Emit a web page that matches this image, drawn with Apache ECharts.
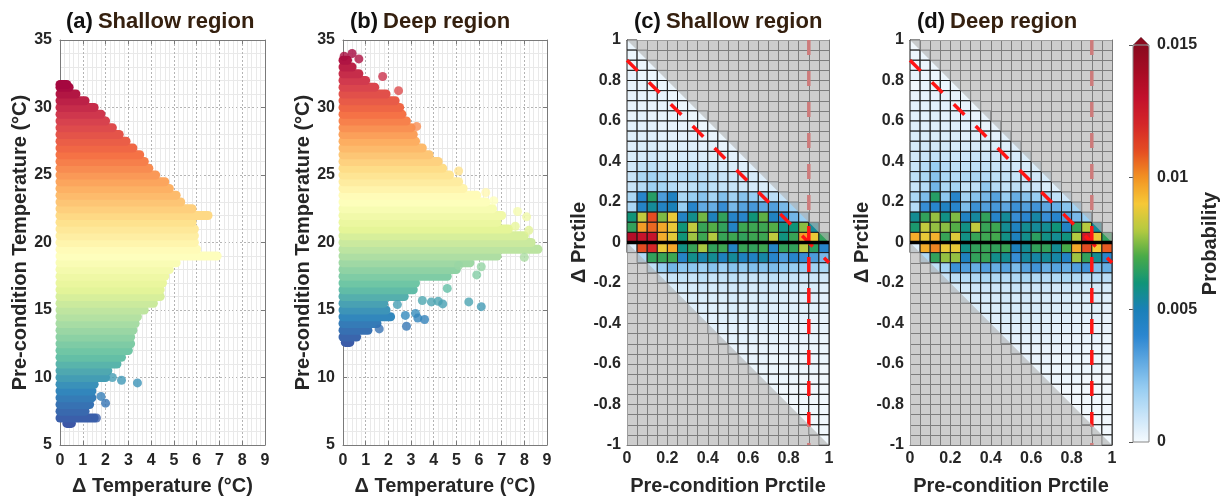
<!DOCTYPE html>
<html>
<head>
<meta charset="utf-8">
<script src="https://cdn.jsdelivr.net/npm/echarts@6/dist/echarts.min.js"></script>
<style>
  html, body { margin: 0; padding: 0; background: #fff; }
  #chart { width: 1226px; height: 498px; }
</style>
</head>
<body>
<div id="chart"></div>
<script>
// (a) shallow region: the point cloud read row by row (temperature level, left / right dot centre)
var shallowTemp = [6.6, 7, 7.5, 8, 8.5, 9, 9.5, 10, 10.5, 11, 11.5, 12, 12.5, 13, 13.5, 14, 14.5, 15, 15.5, 16, 16.5, 17, 17.5, 18, 18.5,
    19, 19.5, 20, 20.5, 21, 21.5, 22, 22.5, 23, 23.5, 24, 24.5, 25, 25.5, 26, 26.5, 27, 27.5, 28, 28.5, 29, 29.5, 30, 30.5, 31, 31.5, 31.7];
var shallowMinDelta = [0.3, 0, 0, 0, 0, 0, 0, 0, 0, 0, 0, 0, 0, 0, 0, 0, 0, 0, 0, 0, 0, 0, 0, 0, 0,
    0, 0, 0, 0, 0, 0, 0, 0, 0, 0, 0, 0, 0, 0, 0, 0, 0, 0, 0, 0, 0, 0, 0, 0, 0, 0, 0];
var shallowMaxDelta = [0.5, 1.5, 1.1, 1.3, 1.4, 1.4, 1.5, 2.0, 2.1, 2.5, 2.7, 3.0, 3.1, 3.1, 3.2, 3.3, 3.4, 3.7, 4.1, 4.4, 4.4, 4.5, 4.6, 4.8, 5.1,
    6.9, 6.0, 5.9, 5.9, 5.9, 5.8, 6.5, 5.8, 5.3, 5.1, 4.8, 4.6, 4.2, 3.9, 3.7, 3.5, 3.2, 2.9, 2.6, 2.3, 2.0, 1.8, 1.5, 1.1, 0.7, 0.4, 0.3];
var shallowOutliers = [[2.7, 9.8], [3.4, 9.6], [2.0, 8.1], [1.8, 8.6], [2.3, 10.0], [1.6, 7.0]];

// (b) deep region
var deepTemp = [12.6, 13, 13.5, 14, 14.5, 15, 15.5, 16, 16.5, 17, 17.5, 18, 18.5, 19, 19.5, 20, 20.5, 21, 21.5, 22, 22.5,
    23, 23.5, 24, 24.5, 25, 25.5, 26, 26.5, 27, 27.5, 28, 28.5, 29, 29.5, 30, 30.5, 31, 31.5, 32, 32.5, 33, 33.5];
var deepMinDelta = [0.1, 0, 0, 0, 0, 0, 0, 0, 0, 0, 0, 0, 0, 0, 0, 0, 0, 0, 0, 0, 0,
    0, 0, 0, 0, 0, 0, 0, 0, 0, 0, 0, 0, 0, 0, 0, 0, 0, 0, 0, 0, 0, 0];
var deepMaxDelta = [0.3, 0.6, 1.1, 1.5, 2.1, 1.9, 1.8, 2.7, 3.1, 3.2, 4.6, 5.0, 5.6, 6.8, 8.6, 8.3, 8.0, 7.3, 6.8, 7.0, 6.6,
    6.3, 5.9, 5.3, 5.1, 4.7, 4.4, 4.2, 3.8, 3.5, 3.2, 3.1, 3.0, 2.8, 2.6, 2.5, 2.3, 1.9, 1.4, 1.0, 0.7, 0.4, 0.2];
var deepOutliers = [[0.05, 33.8], [0.4, 34.0], [0.7, 33.6], [1.75, 32.3], [2.45, 31.25], [3.25, 28.6], [5.1, 25.3], [6.3, 23.7],
    [6.65, 23.1], [7.7, 22.3], [8.1, 21.9], [7.6, 21.2], [8.2, 20.9], [8.0, 18.9], [5.1, 18.3], [6.1, 18.2], [5.9, 17.6],
    [4.6, 16.6], [2.4, 15.4], [3.5, 15.7], [3.9, 15.6], [4.2, 15.65], [4.4, 15.45], [5.55, 15.6], [6.1, 15.25], [2.75, 14.6],
    [3.2, 14.75], [3.6, 14.3], [2.8, 13.8], [1.6, 13.6], [3.3, 14.4]];

// (c)/(d) probability per 0.05 x 0.05 bin, in units of 1e-3.
// one row per Δ bin, top (0.95..1) first; each row only lists the bins inside the feasible band
var shallowProb = [
    [0.2],
    [0.2, 0.2],
    [0.2, 0.2, 0.2],
    [0.3, 0.2, 0.2, 0.2],
    [0.3, 0.3, 0.2, 0.2, 0.2],
    [0.3, 0.3, 0.3, 0.3, 0.2, 0.2],
    [0.3, 0.3, 0.3, 0.3, 0.3, 0.2, 0.2],
    [0.3, 0.4, 0.3, 0.3, 0.3, 0.3, 0.2, 0.2],
    [0.4, 0.4, 0.4, 0.3, 0.3, 0.3, 0.3, 0.2, 0.2],
    [0.5, 0.5, 0.5, 0.4, 0.4, 0.4, 0.4, 0.3, 0.3, 0.2],
    [0.5, 0.6, 0.6, 0.5, 0.5, 0.5, 0.5, 0.4, 0.4, 0.3, 0.3],
    [0.6, 0.7, 0.8, 0.7, 0.6, 0.7, 0.7, 0.6, 0.5, 0.5, 0.4, 0.3],
    [0.8, 1.1, 1.2, 1.0, 0.9, 0.9, 1.0, 0.9, 0.8, 0.7, 0.6, 0.5, 0.4],
    [1.0, 1.6, 1.8, 1.5, 1.2, 1.4, 1.5, 1.3, 1.2, 1.0, 0.9, 0.8, 0.7, 0.5],
    [1.0, 1.4, 1.9, 1.7, 1.4, 1.0, 1.2, 1.5, 1.2, 1.1, 1.0, 0.8, 0.7, 0.6, 0.5],
    [1.6, 4.2, 6.4, 3.4, 4.6, 1.6, 2.0, 2.3, 1.7, 2.4, 1.8, 2.3, 2.0, 1.6, 1.3, 1.0],
    [1.6, 4.4, 5.5, 4.5, 5.0, 2.0, 4.2, 3.0, 2.9, 3.8, 2.6, 3.2, 3.5, 3.1, 3.3, 2.6, 1.8],
    [6.0, 8.2, 11.0, 7.5, 8.8, 4.5, 5.7, 7.4, 4.8, 6.6, 4.3, 4.2, 6.0, 7.2, 4.6, 4.1, 2.7, 2.0],
    [6.6, 9.8, 10.6, 9.6, 8.8, 6.0, 8.2, 6.7, 7.1, 6.6, 4.5, 6.8, 6.8, 6.8, 7.1, 5.8, 6.0, 7.6, 5.5],
    [13.5, 12.8, 12.8, 9.5, 8.7, 6.0, 7.8, 6.8, 8.0, 6.7, 6.8, 6.6, 6.8, 6.8, 8.2, 5.9, 6.7, 9.8, 8.8, 6.6],
    [0.5, 11.0, 12.0, 8.8, 9.6, 5.8, 6.7, 7.9, 6.6, 6.8, 4.5, 6.7, 6.6, 6.8, 4.4, 6.6, 6.6, 8.1, 6.5, 4.2],
    [1.5, 6.6, 6.7, 6.8, 4.4, 5.7, 5.2, 5.6, 4.8, 5.5, 4.7, 4.6, 5.3, 4.2, 3.4, 4.2, 3.8, 3.4, 2.6],
    [1.2, 2.0, 2.7, 2.2, 2.2, 1.9, 2.3, 1.9, 2.3, 2.1, 2.4, 2.3, 2.5, 2.2, 2.0, 2.0, 1.8, 1.6],
    [0.8, 1.0, 1.1, 1.0, 1.2, 1.0, 1.1, 1.2, 1.1, 1.0, 1.1, 1.2, 1.1, 1.0, 0.9, 0.9, 0.8],
    [0.6, 0.7, 0.7, 0.8, 0.7, 0.8, 0.8, 0.8, 0.7, 0.8, 0.8, 0.7, 0.7, 0.6, 0.6, 0.5],
    [0.5, 0.6, 0.6, 0.6, 0.6, 0.7, 0.6, 0.6, 0.7, 0.6, 0.6, 0.5, 0.5, 0.5, 0.4],
    [0.5, 0.5, 0.5, 0.5, 0.6, 0.5, 0.5, 0.6, 0.5, 0.5, 0.5, 0.4, 0.4, 0.4],
    [0.4, 0.4, 0.5, 0.5, 0.5, 0.5, 0.5, 0.5, 0.4, 0.4, 0.4, 0.3, 0.3],
    [0.4, 0.4, 0.4, 0.4, 0.4, 0.4, 0.4, 0.4, 0.3, 0.3, 0.3, 0.3],
    [0.3, 0.4, 0.4, 0.4, 0.3, 0.4, 0.3, 0.3, 0.3, 0.3, 0.2],
    [0.3, 0.3, 0.3, 0.3, 0.3, 0.3, 0.3, 0.2, 0.2, 0.2],
    [0.3, 0.3, 0.3, 0.2, 0.2, 0.2, 0.2, 0.2, 0.2],
    [0.2, 0.2, 0.2, 0.2, 0.2, 0.2, 0.2, 0.1],
    [0.2, 0.2, 0.2, 0.2, 0.1, 0.1, 0.1],
    [0.2, 0.1, 0.1, 0.1, 0.1, 0.1],
    [0.1, 0.1, 0.1, 0.1, 0.1],
    [0.1, 0.1, 0.1, 0.1],
    [0.1, 0.1, 0.1],
    [0.1, 0.1],
    [0.1]
];
var deepProb = [
    [0.1],
    [0.2, 0.2],
    [0.2, 0.2, 0.2],
    [0.3, 0.2, 0.2, 0.2],
    [0.1, 0.3, 0.3, 0.2, 0.2],
    [0.3, 0.3, 0.3, 0.3, 0.3, 0.2],
    [0.4, 0.4, 0.4, 0.4, 0.3, 0.3, 0.2],
    [0.4, 0.4, 0.5, 0.4, 0.4, 0.4, 0.3, 0.3],
    [0.5, 0.5, 0.5, 0.5, 0.5, 0.4, 0.4, 0.3, 0.3],
    [0.6, 0.6, 0.6, 0.6, 0.6, 0.5, 0.5, 0.5, 0.4, 0.4],
    [0.7, 0.8, 0.8, 0.8, 0.7, 0.7, 0.7, 0.6, 0.6, 0.5, 0.5],
    [0.8, 1.0, 1.1, 1.0, 0.9, 0.9, 1.0, 0.9, 0.8, 0.7, 0.7, 0.6],
    [1.0, 1.4, 2.0, 1.4, 1.2, 1.1, 1.2, 1.1, 1.0, 0.9, 0.8, 0.7, 0.6],
    [1.2, 1.6, 2.3, 1.6, 1.4, 1.5, 1.6, 1.4, 1.2, 1.1, 1.0, 0.9, 0.8, 0.7],
    [1.0, 1.4, 2.7, 1.6, 1.7, 1.1, 1.2, 2.1, 1.4, 1.1, 1.2, 1.0, 0.9, 0.6, 0.5],
    [1.6, 2.5, 6.4, 2.2, 4.2, 1.8, 2.3, 2.6, 3.2, 2.0, 2.9, 2.3, 2.0, 1.7, 1.2, 0.9],
    [1.4, 3.8, 4.2, 4.6, 4.2, 2.5, 3.7, 3.3, 3.5, 3.1, 3.7, 3.3, 3.6, 3.1, 2.9, 2.3, 1.8],
    [5.6, 6.6, 7.7, 5.8, 7.5, 4.6, 5.4, 6.6, 4.3, 5.5, 3.8, 4.1, 5.3, 3.8, 4.2, 3.3, 2.6, 2.0],
    [6.2, 8.2, 7.7, 7.6, 7.1, 5.8, 8.2, 6.7, 6.8, 5.6, 4.7, 5.6, 5.5, 5.6, 6.0, 4.5, 6.6, 8.0, 5.5],
    [9.5, 8.8, 9.4, 6.7, 8.6, 5.8, 6.7, 6.8, 6.9, 5.8, 4.8, 5.7, 6.5, 5.8, 5.6, 5.9, 8.0, 12.5, 8.8, 6.6],
    [0.5, 9.5, 10.2, 8.8, 8.8, 5.8, 6.6, 6.7, 6.6, 6.7, 4.8, 5.6, 6.6, 6.6, 5.6, 7.0, 9.6, 11.0, 9.0, 10.8],
    [1.5, 6.6, 7.7, 7.7, 4.7, 6.6, 6.7, 5.7, 5.6, 3.8, 5.4, 5.3, 5.5, 5.3, 4.5, 7.8, 6.6, 5.6, 4.2],
    [1.2, 1.8, 3.7, 3.3, 2.9, 3.3, 2.9, 3.2, 2.5, 3.2, 3.6, 2.9, 3.2, 2.9, 3.3, 3.6, 2.5, 2.9],
    [1.0, 1.3, 1.4, 1.5, 1.6, 1.5, 1.4, 1.5, 1.6, 1.5, 1.4, 1.5, 1.6, 1.5, 1.4, 1.4, 1.3],
    [0.7, 0.8, 0.9, 0.9, 0.9, 0.9, 1.0, 0.9, 0.9, 0.9, 0.8, 0.9, 0.8, 0.8, 0.7, 0.7],
    [0.6, 0.7, 0.7, 0.7, 0.8, 0.7, 0.8, 0.7, 0.7, 0.7, 0.7, 0.6, 0.6, 0.6, 0.5],
    [0.6, 0.6, 0.6, 0.7, 0.7, 0.7, 0.7, 0.6, 0.6, 0.6, 0.5, 0.5, 0.5, 0.4],
    [0.5, 0.5, 0.6, 0.6, 0.6, 0.6, 0.5, 0.5, 0.5, 0.4, 0.4, 0.4, 0.3],
    [0.4, 0.5, 0.5, 0.5, 0.5, 0.5, 0.4, 0.4, 0.4, 0.3, 0.3, 0.3],
    [0.4, 0.4, 0.4, 0.4, 0.4, 0.4, 0.3, 0.3, 0.3, 0.3, 0.2],
    [0.3, 0.3, 0.3, 0.3, 0.3, 0.3, 0.3, 0.2, 0.2, 0.2],
    [0.3, 0.3, 0.3, 0.2, 0.2, 0.2, 0.2, 0.2, 0.2],
    [0.2, 0.2, 0.2, 0.2, 0.2, 0.2, 0.2, 0.1],
    [0.2, 0.2, 0.2, 0.2, 0.1, 0.1, 0.1],
    [0.1, 0.1, 0.1, 0.1, 0.1, 0.1],
    [0.1, 0.1, 0.1, 0.1, 0.1],
    [0.1, 0.1, 0.1, 0.1],
    [0.1, 0.1, 0.1],
    [0.1, 0.1],
    [0.1]
];

var threshold = 0.9;   // 90th percentile marker
var binSize = 0.05;
var probTicks = [0, 0.005, 0.01, 0.015];

var fontFamily = 'Liberation Sans, Arial, sans-serif';
var axisGray = '#7a7a7a';
var labelStyle = { fontFamily: fontFamily, fontWeight: 'bold', fontSize: 16, color: '#262626' };
var nameStyle = { fontFamily: fontFamily, fontWeight: 'bold', fontSize: 20, color: '#262626' };
var dotR = 4.5;
var maskColor = 'rgba(178,178,178,0.65)';
var heatColors = ['#f5fafe', '#c8e4f8', '#98cef2', '#62aae2', '#2c86d0', '#1a80b8', '#109478', '#48aa48',
    '#b4ca40', '#f6c836', '#f29222', '#e44c22', '#d42628', '#c2102c', '#a60c24', '#8a0a1e'];
var spectral = ['#3d57a6', '#3288bd', '#66c2a5', '#abdda4', '#e6f598', '#ffffbf', '#fee08b', '#fdae61', '#f46d43', '#d53e4f', '#a5073f'];

var panels = [
    { left: 60, width: 205 },
    { left: 343, width: 204 },
    { left: 627, width: 202 },
    { left: 910, width: 202 }
];

function buildBands(temps, mins, maxs) {
    return temps.map(function (t, i) { return [maxs[i], t, mins[i]]; });
}

function buildCells(rows) {
    var cells = [];
    rows.forEach(function (row, i) {
        var k = 19 - i;
        var first = k >= -1 ? 0 : -1 - k;
        row.forEach(function (v, j) {
            cells.push([(first + j) * binSize, k * binSize, v / 1000]);
        });
    });
    return cells;
}

function renderBand(params, api) {
    var a = api.coord([api.value(2), api.value(1)]);
    var b = api.coord([api.value(0), api.value(1)]);
    return {
        type: 'rect',
        shape: { x: a[0] - dotR, y: a[1] - dotR, width: b[0] - a[0] + 2 * dotR, height: 2 * dotR, r: dotR },
        style: { fill: api.visual('color') }
    };
}

function renderCell(params, api) {
    var x0 = api.value(0), y0 = api.value(1);
    var p0 = api.coord([x0, y0 + binSize]);
    var p1 = api.coord([x0 + binSize, y0]);
    return {
        type: 'rect',
        shape: { x: p0[0], y: p0[1], width: p1[0] - p0[0], height: p1[1] - p0[1] },
        style: { fill: api.visual('color'), stroke: '#1a1a1a', lineWidth: 1 }
    };
}

function renderMask(params, api) {
    function pts(list) { return list.map(function (p) { return api.coord(p); }); }
    return {
        type: 'group',
        children: [
            { type: 'polygon', shape: { points: pts([[0, 1], [1, 1], [1, 0]]) }, style: { fill: maskColor } },
            { type: 'polygon', shape: { points: pts([[0, 0], [0, -1], [1, -1]]) }, style: { fill: maskColor } }
        ]
    };
}

function mainAxis(gridIndex, min, max, interval, name, nameGap, minorSplit, heat) {
    return {
        type: 'value', gridIndex: gridIndex, min: min, max: max, interval: interval,
        name: name, nameLocation: 'middle', nameGap: nameGap, nameTextStyle: nameStyle,
        axisLine: { onZero: false, lineStyle: { color: axisGray } },
        axisTick: { show: !heat, inside: true, length: 4, lineStyle: { color: axisGray } },
        axisLabel: Object.assign({ margin: heat ? 6 : 8 }, labelStyle),
        splitLine: { show: true, lineStyle: heat ? { color: '#1a1a1a' } : { color: '#b4b4b4', type: [2, 2] } },
        minorTick: { show: false, splitNumber: minorSplit },
        minorSplitLine: { show: true, lineStyle: { color: heat ? '#1a1a1a' : '#e9e9e9' } }
    };
}

function mirrorAxis(gridIndex, position, min, max, interval, ticks) {
    return {
        type: 'value', gridIndex: gridIndex, position: position, min: min, max: max, interval: interval,
        axisLine: { show: true, onZero: false, lineStyle: { color: axisGray } },
        axisTick: { show: ticks, inside: true, length: 4, lineStyle: { color: axisGray } },
        axisLabel: { show: false },
        splitLine: { show: false }
    };
}

var grids = panels.map(function (p) {
    return { left: p.left, width: p.width, top: 40, height: 405, outerBoundsMode: 'none' };
});
grids.push({ left: 1133, width: 16, top: 45, height: 397, outerBoundsMode: 'none' });

var xAxes = [
    mainAxis(0, 0, 9, 1, 'Δ Temperature (°C)', 31, 5, false),
    mainAxis(1, 0, 9, 1, 'Δ Temperature (°C)', 31, 5, false),
    mainAxis(2, 0, 1, 0.2, 'Pre-condition Prctile', 31, 4, true),
    mainAxis(3, 0, 1, 0.2, 'Pre-condition Prctile', 31, 4, true),
    mirrorAxis(0, 'top', 0, 9, 1, true),
    mirrorAxis(1, 'top', 0, 9, 1, true),
    mirrorAxis(2, 'top', 0, 1, 0.2, false),
    mirrorAxis(3, 'top', 0, 1, 0.2, false),
    { type: 'value', gridIndex: 4, min: 0, max: 1, show: false }
];
var yAxes = [
    mainAxis(0, 5, 35, 5, 'Pre-condition Temperature (°C)', 26, 5, false),
    mainAxis(1, 5, 35, 5, 'Pre-condition Temperature (°C)', 24, 5, false),
    mainAxis(2, -1, 1, 0.2, 'Δ Prctile', 37, 4, true),
    mainAxis(3, -1, 1, 0.2, 'Δ Prctile', 33, 4, true),
    mirrorAxis(0, 'right', 5, 35, 5, true),
    mirrorAxis(1, 'right', 5, 35, 5, true),
    mirrorAxis(2, 'right', -1, 1, 0.2, false),
    mirrorAxis(3, 'right', -1, 1, 0.2, false),
    {
        type: 'value', gridIndex: 4, position: 'right', min: probTicks[0], max: probTicks[probTicks.length - 1], interval: probTicks[1],
        z: 10,
        name: 'Probability', nameLocation: 'middle', nameGap: 46, nameTextStyle: nameStyle,
        axisLine: { show: false },
        axisTick: { show: true, inside: true, length: 4, lineStyle: { color: '#555' } },
        axisLabel: Object.assign({ margin: 8 }, labelStyle),
        splitLine: { show: false }
    }
];

function scatterSeries(gridIndex, bands, outliers) {
    return [
        {
            type: 'custom', xAxisIndex: gridIndex, yAxisIndex: gridIndex, renderItem: renderBand,
            encode: { x: [0, 2], y: 1 }, data: bands, z: 2, silent: true
        },
        {
            type: 'scatter', xAxisIndex: gridIndex, yAxisIndex: gridIndex, data: outliers,
            symbolSize: 2 * dotR, z: 3, silent: true, clip: false
        }
    ];
}

function heatSeries(gridIndex, rows) {
    var lineBase = { type: 'line', xAxisIndex: gridIndex, yAxisIndex: gridIndex, symbol: 'none', silent: true };
    return [
        {
            type: 'custom', xAxisIndex: gridIndex, yAxisIndex: gridIndex, renderItem: renderCell,
            encode: { x: 0, y: 1 }, data: buildCells(rows), z: 2, silent: true
        },
        Object.assign({}, lineBase, {
            data: [[threshold, 1], [threshold, -1]], z: 3,
            lineStyle: { color: '#ff1414', width: 3.5, type: [15, 16] }
        }),
        Object.assign({}, lineBase, {
            data: [[0, threshold], [1, threshold - 1]], z: 3,
            lineStyle: { color: '#ff1414', width: 3.5, type: [15, 16] }
        }),
        {
            type: 'custom', xAxisIndex: gridIndex, yAxisIndex: gridIndex, renderItem: renderMask,
            encode: { x: 0, y: 1 }, data: [[0, 0]], z: 4, silent: true
        },
        Object.assign({}, lineBase, {
            data: [[0, 0], [1, 0]], z: 5,
            lineStyle: { color: '#000', width: 3.5 }
        })
    ];
}

var series = []
    .concat(scatterSeries(0, buildBands(shallowTemp, shallowMinDelta, shallowMaxDelta), shallowOutliers))
    .concat(scatterSeries(1, buildBands(deepTemp, deepMinDelta, deepMaxDelta), deepOutliers))
    .concat(heatSeries(2, shallowProb))
    .concat(heatSeries(3, deepProb));

function panelTitle(left, tag, region) {
    return {
        left: left, top: 11, padding: 0,
        text: '{p|' + tag + '} {r|' + region + '}',
        textStyle: {
            rich: {
                p: { fontFamily: fontFamily, fontWeight: 'bold', fontSize: 22, color: '#111' },
                r: { fontFamily: fontFamily, fontWeight: 'bold', fontSize: 22, color: '#35200f' }
            }
        }
    };
}

var chartDom = document.getElementById('chart');
var myChart = echarts.init(chartDom);
var option;

option = {
    animation: false,
    backgroundColor: '#fff',
    title: [
        panelTitle(66, '(a)', 'Shallow region'),
        panelTitle(350, '(b)', 'Deep region'),
        panelTitle(634, '(c)', 'Shallow region'),
        panelTitle(917, '(d)', 'Deep region')
    ],
    grid: grids,
    xAxis: xAxes,
    yAxis: yAxes,
    visualMap: [
        {
            type: 'continuous', min: 0, max: 0.015, dimension: 2, seriesIndex: [4, 9],
            inRange: { color: heatColors },
            left: 1133, top: 45, itemWidth: 16, itemHeight: 397, padding: 0,
            calculable: false, hoverLink: false, text: null, orient: 'vertical'
        },
        {
            type: 'continuous', show: false, min: 6.6, max: 31.7, dimension: 1, seriesIndex: [0, 1],
            inRange: { color: spectral }
        },
        {
            type: 'continuous', show: false, min: 12.4, max: 34, dimension: 1, seriesIndex: [2, 3],
            inRange: { color: spectral }
        }
    ],
    graphic: [
        { type: 'polygon', z: 100, shape: { points: [[1133, 45], [1149, 45], [1141, 37]] }, style: { fill: '#8a0a1e', stroke: '#888', lineWidth: 0.5 } },
        { type: 'rect', z: 100, shape: { x: 1133, y: 45, width: 16, height: 397 }, style: { fill: 'none', stroke: '#888', lineWidth: 1 } }
    ],
    series: series
};

option && myChart.setOption(option);
</script>
</body>
</html>
